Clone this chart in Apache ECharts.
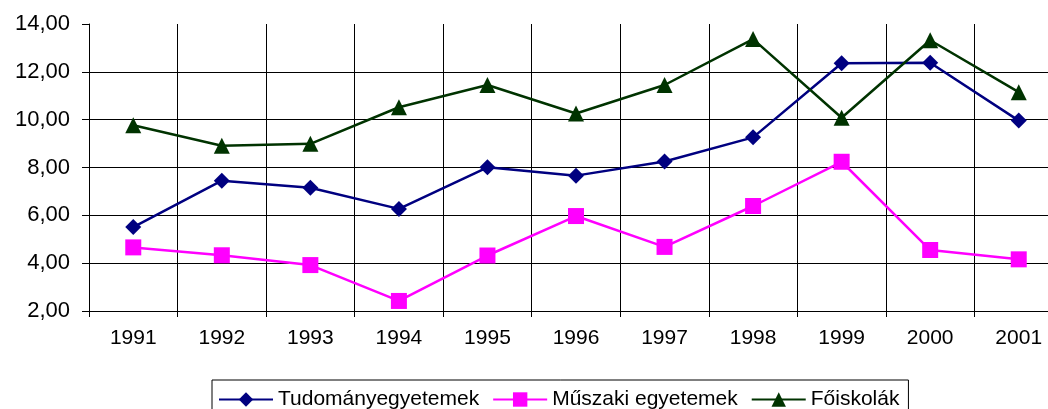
<!DOCTYPE html>
<html>
<head>
<meta charset="utf-8">
<script src="https://cdn.jsdelivr.net/npm/echarts@6/dist/echarts.min.js"></script>
<style>
  html, body { margin: 0; padding: 0; background: #fff; }
  #chart { width: 1048px; height: 409px; }
</style>
</head>
<body>
<div id="chart"></div>
<script>
// évek
var years = ['1991', '1992', '1993', '1994', '1995', '1996', '1997', '1998', '1999', '2000', '2001'];
// sorozatok
var tudomanyegyetemek = [5.51, 7.45, 7.15, 6.27, 8.01, 7.66, 8.25, 9.26, 12.36, 12.38, 9.96];
var muszakiEgyetemek = [4.66, 4.33, 3.92, 2.42, 4.32, 5.97, 4.68, 6.39, 8.24, 4.55, 4.16];
var foiskolak = [9.77, 8.91, 8.99, 10.52, 11.45, 10.26, 11.45, 13.37, 10.08, 13.32, 11.15];
var seriesNames = ['Tudományegyetemek', 'Műszaki egyetemek', 'Főiskolák'];

var font = 'Liberation Sans, Arial, sans-serif';

var myChart = echarts.init(document.getElementById('chart'));
myChart.setOption({
  animation: false,
  backgroundColor: '#fff',
  // a rajzterület jobbra kilóg a képből
  grid: { left: 89, top: 24, width: 974, bottom: 98, outerBoundsMode: 'none', containLabel: false },
  legend: {
    data: seriesNames,
    left: 212,
    top: 380,
    orient: 'horizontal',
    borderColor: '#000',
    borderWidth: 1,
    borderRadius: 0,
    padding: [9, 9, 20, 6],
    itemWidth: 54,
    itemHeight: 18,
    itemGap: 13,
    textStyle: { fontFamily: font, fontSize: 21, color: '#000' }
  },
  xAxis: {
    type: 'category',
    boundaryGap: true,
    data: years,
    axisLine: { lineStyle: { color: '#000', width: 1 } },
    axisTick: { show: true, length: 6, lineStyle: { color: '#000' } },
    axisLabel: { fontFamily: font, fontSize: 21, color: '#000', margin: 17 },
    splitLine: { show: true, lineStyle: { color: '#000', width: 1 } }
  },
  yAxis: {
    type: 'value',
    min: 2,
    max: 14,
    interval: 2,
    axisLine: { show: true, lineStyle: { color: '#000', width: 1 } },
    axisTick: { show: true, length: 7, lineStyle: { color: '#000' } },
    axisLabel: {
      fontFamily: font, fontSize: 22, color: '#000', margin: 19,
      formatter: function (v) { return v.toFixed(2).replace('.', ','); }
    },
    splitLine: { show: true, showMaxLine: false, lineStyle: { color: '#000', width: 1 } }
  },
  series: [
    {
      name: seriesNames[0],
      type: 'line',
      data: tudomanyegyetemek,
      symbol: 'diamond',
      symbolSize: 16,
      color: '#000080',
      lineStyle: { color: '#000080', width: 2.5 },
      itemStyle: { color: '#000080' }
    },
    {
      name: seriesNames[1],
      type: 'line',
      data: muszakiEgyetemek,
      symbol: 'rect',
      symbolSize: 16,
      color: '#ff00ff',
      lineStyle: { color: '#ff00ff', width: 2.5 },
      itemStyle: { color: '#ff00ff' }
    },
    {
      name: seriesNames[2],
      type: 'line',
      data: foiskolak,
      symbol: 'triangle',
      symbolSize: 16,
      color: '#003300',
      lineStyle: { color: '#003300', width: 2.5 },
      itemStyle: { color: '#003300' }
    }
  ]
});
</script>
</body>
</html>
